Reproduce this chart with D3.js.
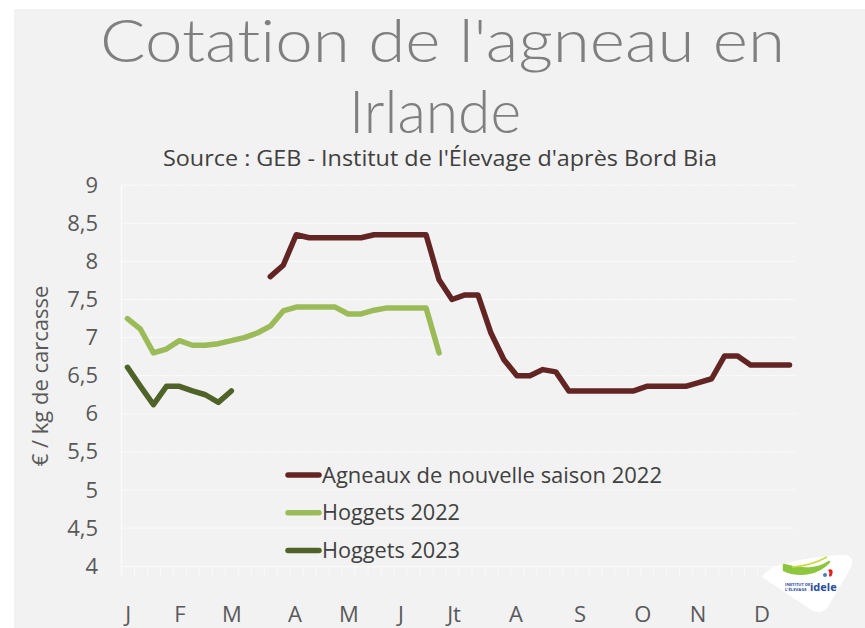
<!DOCTYPE html>
<html><head><meta charset="utf-8">
<script src="https://cdn.jsdelivr.net/npm/d3@7/dist/d3.min.js"></script>
<style>html,body{margin:0;padding:0;background:#fff;}svg{display:block;}</style>
</head><body>
<svg id="chart" width="865" height="628"></svg>
<script>
// ---- data ----
const weeks = d3.range(1, 53);
const agneaux2022 = [null,null,null,null,null,null,null,null,null,null,null,
  7.80,7.95,8.35,8.31,8.31,8.31,8.31,8.31,8.35,8.35,8.35,8.35,8.35,7.76,7.50,7.56,7.56,
  7.06,6.71,6.50,6.50,6.58,6.55,6.30,6.30,6.30,6.30,6.30,6.30,6.36,6.36,6.36,6.36,
  6.41,6.46,6.76,6.76,6.64,6.64,6.64,6.64];
const hoggets2022 = [7.25,7.11,6.80,6.85,6.96,6.90,6.90,6.92,6.96,7.00,7.06,7.15,7.35,
  7.40,7.40,7.40,7.40,7.31,7.31,7.36,7.39,7.39,7.39,7.39,6.80];
const hoggets2023 = [6.61,6.36,6.12,6.36,6.36,6.30,6.25,6.15,6.30];
const seriesNames = ["Agneaux de nouvelle saison 2022","Hoggets 2022","Hoggets 2023"];
const seriesColors = ["#632523","#9BBB59","#4F6228"];
const yTicks = [4,4.5,5,5.5,6,6.5,7,7.5,8,8.5,9];
const monthLabels = ["J","F","M","A","M","J","Jt","A","S","O","N","D"];
const monthWeeks = [0.56,4.54,8.55,13.4,17.56,21.57,25.66,30.43,35.37,40.2,44.45,49.38];

// ---- layout ----
const svg = d3.select("#chart");
const FONT = "'Open Sans', 'DejaVu Sans', sans-serif";
const TFONT = "Lato, 'Open Sans', sans-serif";
const L = 121, R = 796, T = 185.2, B = 566.2;

svg.append("rect").attr("x",14).attr("y",9).attr("width",851).attr("height",619).attr("fill","#F2F2F2");

const x = d3.scaleLinear().domain([0,52]).range([L,R]);
const y = d3.scaleLinear().domain([4,9]).range([B,T]);
const xp = w => x(w - 0.5);

// gridlines
svg.append("g").selectAll("line").data(yTicks.filter(v=>v>4)).join("line")
  .attr("x1",L).attr("x2",R).attr("y1",d=>y(d)).attr("y2",d=>y(d))
  .attr("stroke","#FFFFFF").attr("stroke-width",1).attr("stroke-dasharray","2,1.2");

// x axis ticks (week boundaries)
const xAxis = d3.axisBottom(x).tickValues(d3.range(0,53)).tickSize(9).tickFormat("");
const gx = svg.append("g").attr("transform",`translate(0,${B})`).call(xAxis);
gx.select(".domain").attr("stroke","#FAFAFA").attr("stroke-width",1.3);
gx.selectAll(".tick line").attr("stroke","#FAFAFA").attr("stroke-width",1);

// y axis
const yAxis = d3.axisLeft(y).tickValues(yTicks).tickSize(0).tickPadding(23)
  .tickFormat(d => String(d).replace(".", ","));
const gy = svg.append("g").attr("transform",`translate(${L},0)`).call(yAxis);
gy.select(".domain").attr("stroke","#FAFAFA").attr("stroke-width",1.3);
gy.selectAll("text").attr("font-family",FONT).attr("font-size",22).attr("fill","#595959");

// month labels
svg.append("g").selectAll("text").data(monthLabels).join("text")
  .attr("x",(d,i)=>x(monthWeeks[i])).attr("y",622)
  .attr("text-anchor","middle").attr("font-family",FONT).attr("font-size",22)
  .attr("fill","#595959").text(d=>d);

// y axis title
svg.append("text").attr("transform","translate(48,376) rotate(-90)")
  .attr("text-anchor","middle").attr("font-family",FONT).attr("font-size",22)
  .attr("fill","#595959").text("€ / kg de carcasse");

// titles
function fitText(sel, w){ sel.attr("textLength",w).attr("lengthAdjust","spacingAndGlyphs"); }
const title = svg.append("text").attr("font-family",TFONT).attr("font-size",59)
  .attr("font-weight",300).style("font-variant-ligatures","none").attr("fill","#7F7F7F");
title.append("tspan").attr("x",100).attr("y",62).text("Cotation de l'agneau en").call(fitText,685);
title.append("tspan").attr("x",349).attr("y",133).text("Irlande").call(fitText,172);
svg.append("text").attr("x",163).attr("y",166).attr("font-family",FONT).attr("font-size",21)
  .attr("fill","#404040").text("Source : GEB - Institut de l'Élevage d'après Bord Bia").call(fitText,554);

// lines
const allSeries = [agneaux2022, hoggets2022, hoggets2023];
const line = d3.line().defined(d=>d.v!=null).x(d=>xp(d.w)).y(d=>y(d.v));
allSeries.forEach((s,i)=>{
  const pts = s.map((v,j)=>({w:weeks[j], v:v}));
  svg.append("path").datum(pts).attr("d",line).attr("fill","none")
    .attr("stroke",seriesColors[i]).attr("stroke-width",5.5)
    .attr("stroke-linejoin","round").attr("stroke-linecap","round");
});

// legend
const lg = svg.append("g");
seriesNames.forEach((n,i)=>{
  const cy = 475 + i*37.7;
  lg.append("line").attr("x1",288).attr("x2",319).attr("y1",cy).attr("y2",cy)
    .attr("stroke",seriesColors[i]).attr("stroke-width",5.5).attr("stroke-linecap","round");
  const t = lg.append("text").attr("x",322).attr("y",cy+7.5).attr("font-family",FONT)
    .attr("font-size",22).attr("fill","#404040").text(n);
  t.call(fitText, i===0 ? 340 : 138);
});

// logo
const logo = svg.append("g");
logo.append("path").attr("d","M762,577 C768,565 800,558 840,555 C853,554 855,560 849,571 L829,605 C823,615 815,613 807,607 Z")
  .attr("fill","#FFFFFF");
logo.append("path").attr("d","M784,570 C800,577 818,574 829,562 C819,569 802,571 784,565 Z")
  .attr("fill","#8DC63F").attr("stroke","#8DC63F").attr("stroke-width",2.5).attr("stroke-linejoin","round");
logo.append("path").attr("d","M792,567 C806,566 818,562 827,557").attr("fill","none")
  .attr("stroke","#C8DC3C").attr("stroke-width",1.5);
logo.append("path").attr("d","M828,570 C831,568 834,570 832,575 C831,577 829,577 829,575 C830,573 829,571 828,570 Z")
  .attr("fill","#E2231A");
logo.append("circle").attr("cx",825).attr("cy",575).attr("r",2).attr("fill","#4A7BC0");
logo.append("text").attr("x",785).attr("y",585.5).attr("font-family",FONT).attr("font-size",4.2)
  .attr("font-weight",700).attr("fill","#2B4C9B").text("INSTITUT DE");
logo.append("text").attr("x",785).attr("y",590.5).attr("font-family",FONT).attr("font-size",4.2)
  .attr("font-weight",700).attr("fill","#2B4C9B").text("L'ÉLEVAGE");
logo.append("text").attr("x",810).attr("y",591).attr("font-family",FONT).attr("font-size",11)
  .attr("font-weight",700).attr("fill","#2B4C9B").text("idele");
</script>
</body></html>
